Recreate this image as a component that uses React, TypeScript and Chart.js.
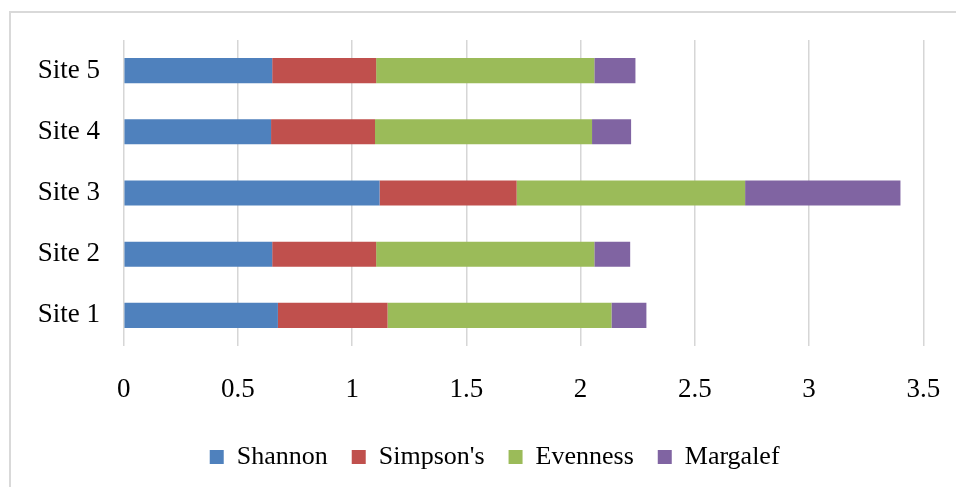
import React, { useEffect, useRef } from "react";
import { Chart, registerables } from "chart.js";

Chart.register(...registerables);

// Diversity indices per sampling site
const categories = ["Site 1", "Site 2", "Site 3", "Site 4", "Site 5"];
const shannon = [0.675, 0.65, 1.12, 0.645, 0.65];
const simpsons = [0.48, 0.455, 0.6, 0.455, 0.455];
const evenness = [0.98, 0.955, 1.0, 0.95, 0.955];
const margalef = [0.153, 0.157, 0.68, 0.171, 0.18];

const seriesNames = ["Shannon", "Simpson's", "Evenness", "Margalef"];
const seriesColors = ["#4F81BD", "#C0504D", "#9BBB59", "#8064A2"];

const xMin = 0;
const xMax = 3.5;
const xStep = 0.5;

const FONT = "'Liberation Serif', 'Times New Roman', serif";

export default function App() {
  const canvasRef = useRef<HTMLCanvasElement | null>(null);

  useEffect(() => {
    const canvas = canvasRef.current;
    if (!canvas) return;
    const values = [shannon, simpsons, evenness, margalef];
    const chart = new Chart(canvas, {
      type: "bar",
      data: {
        labels: categories,
        datasets: values.map((v, i) => ({
          label: seriesNames[i],
          data: v,
          backgroundColor: seriesColors[i],
          borderWidth: 0,
          categoryPercentage: 1,
          barPercentage: 0.41,
        })),
      },
      options: {
        indexAxis: "y",
        responsive: false,
        animation: false,
        layout: { padding: { left: 66, right: 32.7, top: 40, bottom: 7 } },
        scales: {
          x: {
            stacked: true,
            min: xMin,
            max: xMax,
            ticks: {
              stepSize: xStep,
              color: "#000",
              font: { family: FONT, size: 27 },
              padding: 27.8,
              callback: (value: any) => String(value),
            },
            grid: { color: "#d6d6d6", lineWidth: 1.5, drawTicks: false },
            border: { display: false },
            afterFit: (scale: any) => {
              scale.height = 74;
              scale.paddingLeft = 0;
              scale.paddingRight = 0;
            },
          },
          y: {
            stacked: true,
            reverse: true,
            ticks: {
              color: "#000",
              font: { family: FONT, size: 27 },
              // labels sit left of the plot, left-aligned at a common edge
              mirror: true,
              crossAlign: "near",
              padding: -86,
            },
            grid: { display: false, drawTicks: false },
            border: { display: false },
            afterFit: (scale: any) => {
              scale.width = 57.7;
            },
          },
        },
        plugins: {
          legend: {
            position: "bottom",
            labels: {
              boxWidth: 14,
              boxHeight: 14,
              padding: 24,
              color: "#000",
              font: { family: FONT, size: 26 },
            },
          },
          tooltip: { enabled: false },
        },
      },
    });
    return () => chart.destroy();
  }, []);

  return (
    <div style={{ position: "fixed", inset: 0, overflow: "hidden", background: "#fff" }}>
      <div
        style={{
          position: "absolute",
          left: 9,
          top: 11,
          width: 980,
          height: 520,
          border: "2px solid #d9d9d9",
          boxSizing: "border-box",
        }}
      />
      <canvas
        ref={canvasRef}
        width={956}
        height={487}
        style={{ position: "absolute", left: 0, top: 0, display: "block" }}
      />
    </div>
  );
}
